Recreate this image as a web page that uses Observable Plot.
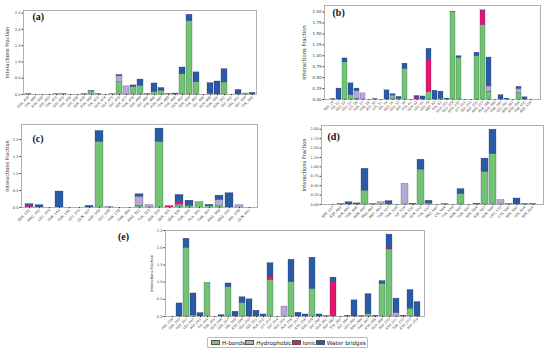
<!DOCTYPE html>
<html><head><meta charset="utf-8">
<script src="https://cdn.jsdelivr.net/npm/d3@7"></script>
<script src="https://cdn.jsdelivr.net/npm/@observablehq/plot@0.6"></script>
<style>
html,body{margin:0;padding:0;background:#fff;}
#root{position:relative;width:550px;height:354px;overflow:hidden;background:#fff;font-family:"DejaVu Sans",sans-serif;}
.panel{position:absolute;}
#legend{position:absolute;left:207px;top:337px;width:161px;height:11px;border:1px solid #bbb;border-radius:1px;display:flex;align-items:center;justify-content:space-between;font-size:5.6px;color:#111;box-sizing:border-box;padding:0 3px;white-space:nowrap;}
#legend div{white-space:nowrap;display:flex;align-items:center;}
#legend span.sw{display:inline-block;width:9px;height:5px;margin-right:2px;border:0.5px solid #555;box-sizing:border-box;}
</style></head>
<body><div id="root"></div>
<script>
const series = ["H-bonds", "Hydrophobic", "Ionic", "Water bridges"];
const colors = ["#72c472", "#b9a8d6", "#e8156e", "#2a5aa6"];

// Panel (a)
const aLabels = ["ASN_439","TYR_449","ASN_450","LEU_452","TYR_453","LEU_455","PHE_456","LYS_458","SER_459","ASN_460","TYR_473","GLN_474","ALA_475","GLY_476","SER_477","THR_478","GLU_484","GLY_485","PHE_486","ASN_487","TYR_489","PHE_490","GLN_493","SER_494","TYR_495","GLY_496","GLN_498","THR_500","ASN_501","GLY_502","VAL_503","GLY_504","TYR_505"];
const aHB = [0,0,0,0,0,0,0,0,0,0.07,0,0,0,0.38,0,0.23,0.27,0,0.08,0.12,0,0,0.62,2.25,0.38,0,0.03,0,0.37,0,0,0,0];
const aHP = [0,0,0,0,0.01,0,0,0,0.02,0.03,0,0,0.01,0.18,0.25,0,0,0,0,0,0,0,0,0,0,0,0,0,0,0,0,0.03,0];
const aIO = [0,0,0,0,0,0,0,0,0,0,0,0,0,0,0,0,0,0,0,0,0,0,0,0,0,0,0,0,0,0,0,0,0];
const aWB = [0.01,0,0,0,0,0.01,0,0,0,0.01,0.01,0,0,0.04,0,0.05,0.19,0.01,0.26,0.08,0.01,0.03,0.21,0.2,0.3,0,0.32,0.4,0.41,0,0.14,0,0.05];

// Panel (b)
const bLabels = ["SER_19","ILE_21","GLU_22","GLU_23","LYS_26","THR_27","PHE_28","ASP_30","LYS_31","HIS_34","GLU_35","GLU_37","ASP_38","TYR_41","GLN_42","LEU_45","LEU_79","MET_82","TYR_83","GLN_325","GLU_329","ASN_330","LYS_353","GLY_354","ASP_355","ARG_357","ALA_386","GLN_388","PHE_390","LEU_391","ARG_393","ASN_394","PHE_555","ARG_559"];
const bHB = [0,0,0.85,0.1,0.02,0,0,0,0,0,0.03,0.02,0.7,0,0,0,0.17,0,0.02,0,2.0,0.95,0,0,0.99,1.7,0.18,0,0,0,0,0.14,0,0];
const bHP = [0,0,0,0,0.17,0.14,0,0,0,0,0.06,0,0,0,0,0,0,0,0,0,0,0,0,0,0,0,0.12,0,0,0,0,0.1,0,0];
const bIO = [0,0,0.01,0,0,0,0,0,0,0,0,0,0,0,0.05,0,0.75,0,0,0,0,0,0,0,0,0.33,0,0,0,0,0,0,0,0];
const bWB = [0.01,0.25,0.08,0.27,0.06,0,0,0.01,0,0.21,0.03,0.04,0.12,0,0.03,0.07,0.24,0.2,0.16,0.02,0.01,0.04,0,0,0.08,0.01,0.66,0,0.1,0.02,0,0.05,0.05,0];

// Panel (c)
const cLabels = ["SER_141","PRO_142","LEU_143","THR_144","THR_146","LEU_155","GLN_167","ASP_168","GLY_169","THR_170","THR_304","ARG_322","TYR_323","SER_324","SER_325","SER_326","THR_344","ALA_345","THR_347","ARG_348","ARG_437","VAL_439","GLN_441"];
const cHB = [0,0,0,0,0,0,0,1.93,0,0,0,0.05,0,1.93,0,0.06,0.05,0.16,0.04,0.04,0,0,0];
const cHP = [0,0,0,0,0,0,0,0,0.01,0,0,0.27,0.07,0,0,0.03,0,0,0,0.18,0,0.07,0];
const cIO = [0.04,0,0,0,0,0,0,0,0,0,0,0,0,0,0.04,0.07,0,0,0,0,0,0,0];
const cWB = [0.06,0.07,0,0.47,0,0,0.05,0.32,0,0,0,0.07,0,0.39,0,0.21,0.15,0,0.04,0.13,0.42,0,0];

// Panel (d)
const dLabels = ["SER_127","ASP_481","GLN_482","THR_486","ASN_490","PRO_491","MET_492","THR_527","THR_528","ILE_529","GLN_530","GLN_531","TYR_532","PRO_540","LYS_544","TYR_559","ASN_560","THR_562","SER_564","ASP_567","GLN_568","LEU_570","CYS_580","SER_582","HIS_604","SER_605"];
const dHB = [0,0,0,0,0.37,0,0,0.01,0,0,0,0.93,0.03,0,0,0,0.28,0,0,0.87,1.34,0,0,0,0,0];
const dHP = [0,0,0,0,0,0,0.06,0,0,0.55,0,0,0,0,0,0,0,0,0,0,0,0.12,0,0,0,0];
const dIO = [0,0,0,0,0,0,0,0,0,0,0,0,0,0,0,0,0,0,0,0,0,0,0,0,0,0];
const dWB = [0,0.01,0.06,0.03,0.58,0.01,0,0.08,0,0,0.02,0.26,0.07,0,0.01,0,0.13,0,0.02,0.35,0.65,0,0.01,0.16,0.01,0.01];

// Panel (e)
const eLabels = ["PRO_239","SER_240","SER_241","LEU_242","ASP_243","ILE_244","THR_245","GLN_246","SER_247","VAL_248","ASN_249","GLU_250","SER_251","ALA_252","LYS_253","GLY_254","GLU_255","ALA_256","TRP_257","ASN_258","ARG_259","GLY_260","GLN_261","ASP_262","TYR_263","GLY_264","LEU_265","ARG_266","PHE_267","ASN_268","GLN_269","ASP_270","ASN_271","THR_272","ASN_273","ASP_274"];
const eHB = [0,0,2.0,0,0,0.98,0,0,0.85,0,0.39,0,0,0,1.06,0,0,1.0,0,0,0.8,0,0,0.01,0,0,0,0.02,0.07,0,0.95,1.95,0,0,0.23,0];
const eHP = [0,0,0,0.03,0,0,0,0,0,0,0,0,0,0,0,0,0.29,0,0,0,0,0,0.02,0,0,0,0,0,0,0,0,0,0.1,0,0,0];
const eIO = [0,0,0,0,0,0,0,0,0,0,0,0,0,0,0.1,0,0,0,0,0,0,0,0,1.0,0,0.02,0,0,0.02,0,0,0.03,0,0,0,0];
const eWB = [0,0.38,0.26,0.64,0.1,0,0,0.04,0.11,0.14,0.17,0.5,0.17,0.06,0.39,0,0,0.65,0.11,0.06,0.91,0.06,0,0.12,0,0,0.47,0,0.56,0.02,0.08,0.4,0.42,0.02,0.54,0.42];

function rows(labels, hb, hp, io, wb) {
  const out = [];
  const arrs = [hb, hp, io, wb];
  labels.forEach((l, i) => arrs.forEach((a, k) => out.push({res: l, type: series[k], v: a[i]})));
  return out;
}

function panel(cfg) {
  const data = rows(cfg.labels, ...cfg.vals);
  const marks = [
    Plot.barY(data, Plot.stackY({order: series}, {x: "res", y: "v", fill: "type", stroke: "#1d2a55", strokeWidth: 0.35, strokeOpacity: 0.7})),
    Plot.frame({stroke: "#a8a8a8", strokeWidth: 0.9}),
    Plot.axisY({ticks: cfg.ticks, tickFormat: cfg.fmt, fontSize: cfg.tf, tickSize: 1.5, tickPadding: 1.5, label: null}),
    Plot.axisX({tickRotate: -45, fontSize: cfg.xf, tickSize: 1.2, tickPadding: 1, label: null, fill: "#444"}),
    Plot.text(["Interactions Fraction"], {frameAnchor: "left", textAnchor: "middle", lineAnchor: "middle", rotate: -90, dx: -cfg.lx, fontSize: cfg.lf, fill: "#333"})
  ];
  if (cfg.tag) marks.push(Plot.text([cfg.tag], {frameAnchor: "top-left", dx: cfg.tx, dy: cfg.ty, textAnchor: "start", lineAnchor: "top", fontSize: 10, fontWeight: "bold", fontFamily: "Liberation Serif", fill: "#111"}));
  const p = Plot.plot({
    width: cfg.w, height: cfg.h,
    marginLeft: cfg.ml, marginRight: cfg.mr, marginTop: cfg.mt, marginBottom: cfg.mb,
    style: {fontFamily: "DejaVu Sans", fontSize: "4px", background: "transparent", color: "#333", overflow: "visible"},
    x: {domain: cfg.labels, padding: 0.16, label: null},
    y: {domain: [0, cfg.ymax], label: null},
    color: {domain: series, range: colors},
    marks
  });
  p.classList.add("panel");
  p.style.left = cfg.left + "px";
  p.style.top = cfg.top + "px";
  p.style.position = "absolute";
  return p;
}

const root = document.getElementById("root");
root.append(panel({labels: aLabels, vals: [aHB, aHP, aIO, aWB], w: 262, h: 120, ml: 23, mr: 6, mt: 10, mb: 26, left: 0, top: 0,
  ymax: 2.58, ticks: [0, 0.5, 1, 1.5, 2, 2.5], fmt: d3.format(".1f"), tf: 3.6, xf: 3.4, lx: 16, lf: 5, tag: "(a)", tx: 9, ty: 2}));
root.append(panel({labels: bLabels, vals: [bHB, bHP, bIO, bWB], w: 266, h: 125, ml: 44, mr: 6, mt: 5, mb: 26, left: 280, top: 0,
  ymax: 2.15, ticks: [0, 0.25, 0.5, 0.75, 1, 1.25, 1.5, 1.75, 2], fmt: d3.format(".2f"), tf: 4, xf: 3.3, lx: 20, lf: 5.3, tag: "(b)", tx: 8, ty: 3}));
root.append(panel({labels: cLabels, vals: [cHB, cHP, cIO, cWB], w: 262, h: 118, ml: 21, mr: 5, mt: 6, mb: 29, left: 0, top: 118,
  ymax: 2.44, ticks: [0, 0.5, 1, 1.5, 2], fmt: d3.format(".1f"), tf: 3.6, xf: 3.6, lx: 14, lf: 5, tag: "(c)", tx: 11, ty: 10}));
root.append(panel({labels: dLabels, vals: [dHB, dHP, dIO, dWB], w: 268, h: 115, ml: 41, mr: 5, mt: 6, mb: 30, left: 280, top: 119,
  ymax: 2.1, ticks: [0, 0.25, 0.5, 0.75, 1, 1.25, 1.5, 1.75, 2], fmt: d3.format(".2f"), tf: 3.6, xf: 3.5, lx: 17, lf: 5.2, tag: "(d)", tx: 6, ty: 7}));
root.append(panel({labels: eLabels, vals: [eHB, eHP, eIO, eWB], w: 305, h: 112, ml: 40, mr: 6, mt: 6, mb: 20, left: 125, top: 224,
  ymax: 2.5, ticks: [0, 0.5, 1, 1.5, 2, 2.5], fmt: d3.format(".1f"), tf: 3.6, xf: 3.3, lx: 14, lf: 3.6, tag: "", tx: 0, ty: 0}));

// (e) tag sits outside the frame
const eTag = document.createElement("div");
eTag.textContent = "(e)";
eTag.style.cssText = "position:absolute;left:118px;top:231px;font:bold 10px 'Liberation Serif';color:#111;";
root.append(eTag);

const legend = document.createElement("div");
legend.id = "legend";
series.forEach((s, i) => {
  const item = document.createElement("div");
  item.innerHTML = `<span class="sw" style="background:${colors[i]}"></span>${s}`;
  legend.append(item);
});
root.append(legend);
</script></body></html>
